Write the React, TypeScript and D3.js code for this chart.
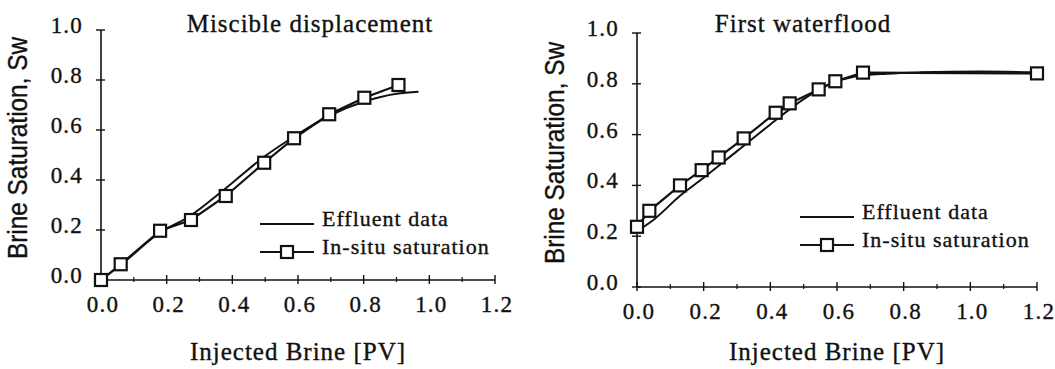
import { useEffect, useRef } from "react"
import * as d3 from "d3"

const xTicks = [0, 0.2, 0.4, 0.6, 0.8, 1.0, 1.2]
const xMinorTicks = [0.1, 0.3, 0.5, 0.7, 0.9, 1.1]
const yTicks = [0, 0.2, 0.4, 0.6, 0.8, 1.0]

// Miscible displacement
const miscibleInsituX = [0, 0.06, 0.18, 0.274, 0.38, 0.497, 0.588, 0.695, 0.802, 0.906]
const miscibleInsituY = [0, 0.063, 0.197, 0.24, 0.336, 0.469, 0.567, 0.663, 0.729, 0.78]
const miscibleEffluentX = [0, 0.06, 0.18, 0.27, 0.38, 0.5, 0.59, 0.7, 0.8, 0.9, 0.967]
const miscibleEffluentY = [0, 0.06, 0.19, 0.255, 0.367, 0.496, 0.575, 0.66, 0.713, 0.745, 0.753]

// First waterflood
const floodInsituX = [0, 0.037, 0.129, 0.194, 0.245, 0.32, 0.416, 0.458, 0.545, 0.595, 0.678, 1.2]
const floodInsituY = [0.237, 0.3, 0.4, 0.46, 0.51, 0.585, 0.686, 0.723, 0.778, 0.81, 0.844, 0.841]
const floodEffluentX = [0, 0.05, 0.13, 0.2, 0.3, 0.4, 0.5, 0.58, 0.65, 0.75, 0.85, 1.03, 1.2]
const floodEffluentY = [0.22, 0.265, 0.36, 0.43, 0.535, 0.64, 0.74, 0.8, 0.828, 0.84, 0.845, 0.848, 0.845]

const serif = "'Liberation Serif', 'Times New Roman', serif"
const sans = "'Liberation Sans Narrow', 'Liberation Sans', Arial, sans-serif"
const ink = "#111"

const panels = [
    {
        title: "Miscible displacement",
        titleX: 310,
        left: 101, right: 495, top: 30, bottom: 280,
        insituX: miscibleInsituX, insituY: miscibleInsituY,
        effluentX: miscibleEffluentX, effluentY: miscibleEffluentY,
        ytitleX: 27, ytitleY: 148,
        legendX: 260, legendY: 224,
    },
    {
        title: "First waterflood",
        titleX: 803,
        left: 637, right: 1037, top: 33, bottom: 287,
        insituX: floodInsituX, insituY: floodInsituY,
        effluentX: floodEffluentX, effluentY: floodEffluentY,
        ytitleX: 564, ytitleY: 153,
        legendX: 800, legendY: 217,
    },
]

function label(sel, size, spacing) {
    return sel
        .style("font-family", serif)
        .style("font-size", `${size}px`)
        .style("letter-spacing", `${spacing}px`)
        .attr("fill", ink)
        .attr("stroke", ink)
        .attr("stroke-width", 0.35)
}

function drawPanel(svg, p) {
    const x = d3.scaleLinear().domain([0, 1.2]).range([p.left, p.right])
    const y = d3.scaleLinear().domain([0, 1]).range([p.bottom, p.top])
    const g = svg.append("g")

    // axes
    g.append("line")
        .attr("x1", x(0)).attr("x2", x(1.2))
        .attr("y1", y(0)).attr("y2", y(0))
        .attr("stroke", ink).attr("stroke-width", 1.6)
    g.append("line")
        .attr("x1", x(0)).attr("x2", x(0))
        .attr("y1", y(0)).attr("y2", y(1))
        .attr("stroke", ink).attr("stroke-width", 1.6)

    g.selectAll(".xt")
        .data(xTicks)
        .enter()
        .append("line")
        .attr("x1", (d) => x(d)).attr("x2", (d) => x(d))
        .attr("y1", y(0) - 5).attr("y2", y(0) + 4)
        .attr("stroke", ink).attr("stroke-width", 1.4)
    g.selectAll(".xm")
        .data(xMinorTicks)
        .enter()
        .append("line")
        .attr("x1", (d) => x(d)).attr("x2", (d) => x(d))
        .attr("y1", y(0) - 3).attr("y2", y(0) + 2)
        .attr("stroke", ink).attr("stroke-width", 1.2)
    g.selectAll(".yt")
        .data(yTicks)
        .enter()
        .append("line")
        .attr("x1", x(0) - 5).attr("x2", x(0) + 4)
        .attr("y1", (d) => y(d)).attr("y2", (d) => y(d))
        .attr("stroke", ink).attr("stroke-width", 1.4)

    label(
        g.selectAll(".xl")
            .data(xTicks)
            .enter()
            .append("text")
            .attr("x", (d) => x(d) + 2)
            .attr("y", y(0) + 32)
            .attr("text-anchor", "middle"),
        23, 1.2
    ).text((d) => d.toFixed(1))
    label(
        g.selectAll(".yl")
            .data(yTicks)
            .enter()
            .append("text")
            .attr("x", x(0) - 18)
            .attr("y", (d) => y(d) + 3)
            .attr("text-anchor", "end"),
        23, 1.2
    ).text((d) => d.toFixed(1))

    // titles
    label(
        g.append("text").attr("x", p.titleX).attr("y", 32).attr("text-anchor", "middle"),
        25, 1
    ).text(p.title)
    label(
        g.append("text").attr("x", (x(0) + x(1.2)) / 2).attr("y", 360).attr("text-anchor", "middle"),
        25, 1
    ).text("Injected Brine [PV]")
    g.append("text")
        .attr("transform", `translate(${p.ytitleX},${p.ytitleY}) rotate(-90)`)
        .attr("text-anchor", "middle")
        .attr("textLength", 222)
        .attr("lengthAdjust", "spacingAndGlyphs")
        .style("font-family", sans).style("font-size", "27px")
        .attr("fill", ink)
        .attr("stroke", ink)
        .attr("stroke-width", 0.35)
        .text("Brine Saturation, Sw")

    // effluent curve
    const eff = p.effluentX.map((v, i) => [v, p.effluentY[i]])
    g.append("path")
        .datum(eff)
        .attr("fill", "none")
        .attr("stroke", ink)
        .attr("stroke-width", 2)
        .attr("d", d3.line().x((d) => x(d[0])).y((d) => y(d[1])).curve(d3.curveMonotoneX))

    // in-situ line + squares
    const ins = p.insituX.map((v, i) => [v, p.insituY[i]])
    g.append("path")
        .datum(ins)
        .attr("fill", "none")
        .attr("stroke", ink)
        .attr("stroke-width", 2.2)
        .attr("d", d3.line().x((d) => x(d[0])).y((d) => y(d[1])))
    const s = 12
    g.selectAll(".sq")
        .data(ins)
        .enter()
        .append("rect")
        .attr("x", (d) => x(d[0]) - s / 2)
        .attr("y", (d) => y(d[1]) - s / 2)
        .attr("width", s).attr("height", s)
        .attr("fill", "white")
        .attr("stroke", ink)
        .attr("stroke-width", 2.2)

    // legend
    const lg = g.append("g")
    lg.append("line")
        .attr("x1", p.legendX).attr("x2", p.legendX + 54)
        .attr("y1", p.legendY).attr("y2", p.legendY)
        .attr("stroke", ink).attr("stroke-width", 2)
    label(
        lg.append("text").attr("x", p.legendX + 62).attr("y", p.legendY + 2),
        22, 1
    ).text("Effluent data")
    lg.append("line")
        .attr("x1", p.legendX).attr("x2", p.legendX + 54)
        .attr("y1", p.legendY + 28).attr("y2", p.legendY + 28)
        .attr("stroke", ink).attr("stroke-width", 2.2)
    lg.append("rect")
        .attr("x", p.legendX + 27 - s / 2).attr("y", p.legendY + 28 - s / 2)
        .attr("width", s).attr("height", s)
        .attr("fill", "white").attr("stroke", ink).attr("stroke-width", 2.2)
    label(
        lg.append("text").attr("x", p.legendX + 62).attr("y", p.legendY + 30),
        22, 1
    ).text("In-situ saturation")
}

export default function App() {
    const svgRef = useRef(null)

    useEffect(() => {
        const svg = d3.select(svgRef.current)
        svg.selectAll("*").remove()
        svg.append("rect").attr("width", 1055).attr("height", 369).attr("fill", "white")
        panels.forEach((p) => drawPanel(svg, p))
    }, [])

    return (
        <svg
            ref={svgRef}
            width={1055}
            height={369}
            style={{ position: "absolute", left: 0, top: 0, display: "block" }}
        ></svg>
    )
}
